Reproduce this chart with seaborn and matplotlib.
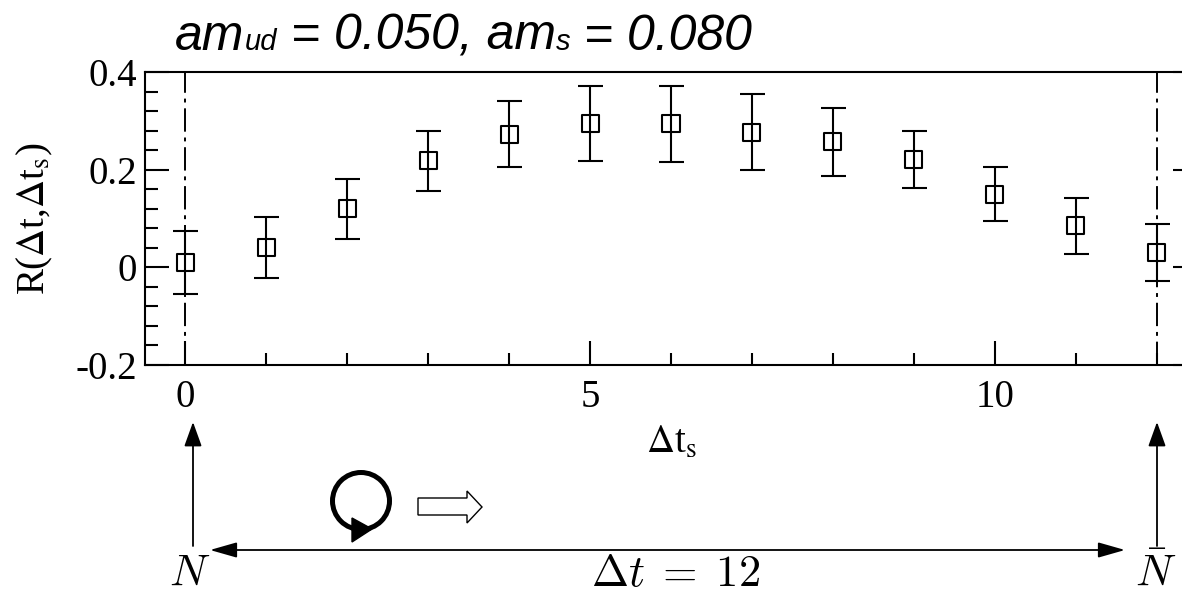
import numpy as np
import seaborn as sns
import matplotlib.pyplot as plt
from matplotlib.patches import Circle, Polygon
from matplotlib.ticker import MultipleLocator


# =========================
# Data
# =========================

dt_s = [0, 1, 2, 3, 4, 5, 6, 7, 8, 9, 10, 11, 12]
R = [0.010, 0.041, 0.120, 0.218, 0.273, 0.294, 0.294, 0.277, 0.257, 0.221, 0.150, 0.085, 0.030]
R_err = [0.064, 0.062, 0.061, 0.062, 0.068, 0.077, 0.078, 0.077, 0.070, 0.058, 0.055, 0.058, 0.059]
dt_total = 12

title_parts = [("am", 36), ("ud", 21), (" = 0.050, am", 36), ("s", 21), (" = 0.080", 36)]


# =========================
# Style
# =========================

sns.set_theme(style="ticks")
plt.rcParams["font.family"] = ["Liberation Serif", "DejaVu Sans"]
plt.rcParams["axes.linewidth"] = 1.5
plt.rcParams["text.color"] = "black"
plt.rcParams["axes.labelcolor"] = "black"

fig = plt.figure(figsize=(11.82, 5.96), dpi=100)

# main axes, the right spine sits just beyond the figure edge as in the original
ax = fig.add_axes([145 / 1182, 1 - 365 / 596, 1052 / 1182, 293 / 596])


# =========================
# Data points
# =========================

ax.errorbar(
    dt_s, R, yerr=R_err,
    fmt="none", ecolor="black",
    elinewidth=1.5, capsize=9, capthick=1.5, zorder=3
)

sns.scatterplot(
    x=dt_s, y=R, ax=ax,
    marker="s", s=150,
    facecolor="none", edgecolor="black", linewidth=1.5,
    zorder=4
)

# source / sink positions
for xv in [0, dt_total]:
    ax.axvline(xv, color="black", lw=1.4, linestyle=(0, (12, 3, 2, 3)), zorder=2)

ax.set_xlim(-0.5, dt_total + 0.5)
ax.set_ylim(-0.2, 0.4)

ax.xaxis.set_major_locator(MultipleLocator(5))
ax.xaxis.set_minor_locator(MultipleLocator(1))
ax.yaxis.set_major_locator(MultipleLocator(0.2))
ax.yaxis.set_minor_locator(MultipleLocator(0.04))
ax.set_yticks([-0.2, 0, 0.2, 0.4])
ax.set_yticklabels(["-0.2", "0", "0.2", "0.4"])

ax.tick_params(which="both", direction="in", width=1.5, colors="black",
               labelsize=28, right=True, top=False)
ax.tick_params(which="major", length=17)
ax.tick_params(which="minor", length=9)
ax.tick_params(axis="x", pad=10)
ax.tick_params(axis="y", pad=6)

for sp in ax.spines.values():
    sp.set_color("black")
    sp.set_visible(True)

ax.set_xlabel(r"$\Delta$t$_\mathrm{s}$", fontsize=28, math_fontfamily="stix")
ax.set_ylabel(r"R($\Delta$t,$\Delta$t$_\mathrm{s}$)", fontsize=28, math_fontfamily="stix")
ax.xaxis.set_label_coords(0.5, -0.205)
ax.yaxis.set_label_coords(-0.086, 0.5)


# =========================
# Overlay with the diagram (pixel coordinates)
# =========================

ov = fig.add_axes([0, 0, 1, 1], zorder=-1)
ov.set_xlim(0, 1182)
ov.set_ylim(596, 0)
ov.axis("off")
ov.patch.set_alpha(0)

up = dict(arrowstyle="-|>,head_length=15,head_width=5.4", mutation_scale=1,
          color="black", lw=1.3, shrinkA=0, shrinkB=0)
both = dict(arrowstyle="<|-|>,head_length=16.5,head_width=4.7", mutation_scale=1,
            color="black", lw=1.3, shrinkA=0, shrinkB=0)

ov.annotate("", xy=(193, 422), xytext=(193, 546), arrowprops=up)
ov.annotate("", xy=(1157, 422), xytext=(1157, 546), arrowprops=up)
ov.annotate("", xy=(1125, 550), xytext=(210, 550), arrowprops=both)

ov.add_patch(Circle((361, 501), 28.5, fill=False, lw=3.6, color="black"))
ov.add_patch(Polygon([(352, 518), (352, 542), (372, 529)], closed=True, color="black"))
ov.add_patch(Polygon([(418, 498), (467, 498), (467, 491), (482, 507),
                      (467, 523), (467, 515), (418, 515)],
                     closed=True, facecolor="white", edgecolor="black", lw=1.0))

ov.text(190, 595, r"$N$", fontsize=32, ha="center", va="bottom", math_fontfamily="cm")
ov.text(676, 595, r"$\Delta t\;=\;12$", fontsize=32, ha="center", va="bottom", math_fontfamily="cm")
ov.text(1156, 595, r"$\bar{N}$", fontsize=32, ha="center", va="bottom", math_fontfamily="cm")

# title, drawn piece by piece so the small parts keep the same baseline
renderer = fig.canvas.get_renderer()
x_pos = 175
for txt, size in title_parts:
    t = ov.text(x_pos, 50, txt, fontsize=size, fontstyle="italic", color="black",
                family=["Liberation Sans", "DejaVu Sans"], va="baseline", ha="left")
    bb = t.get_window_extent(renderer=renderer)
    x_pos += bb.width

fig.savefig("out.png", dpi=100)
